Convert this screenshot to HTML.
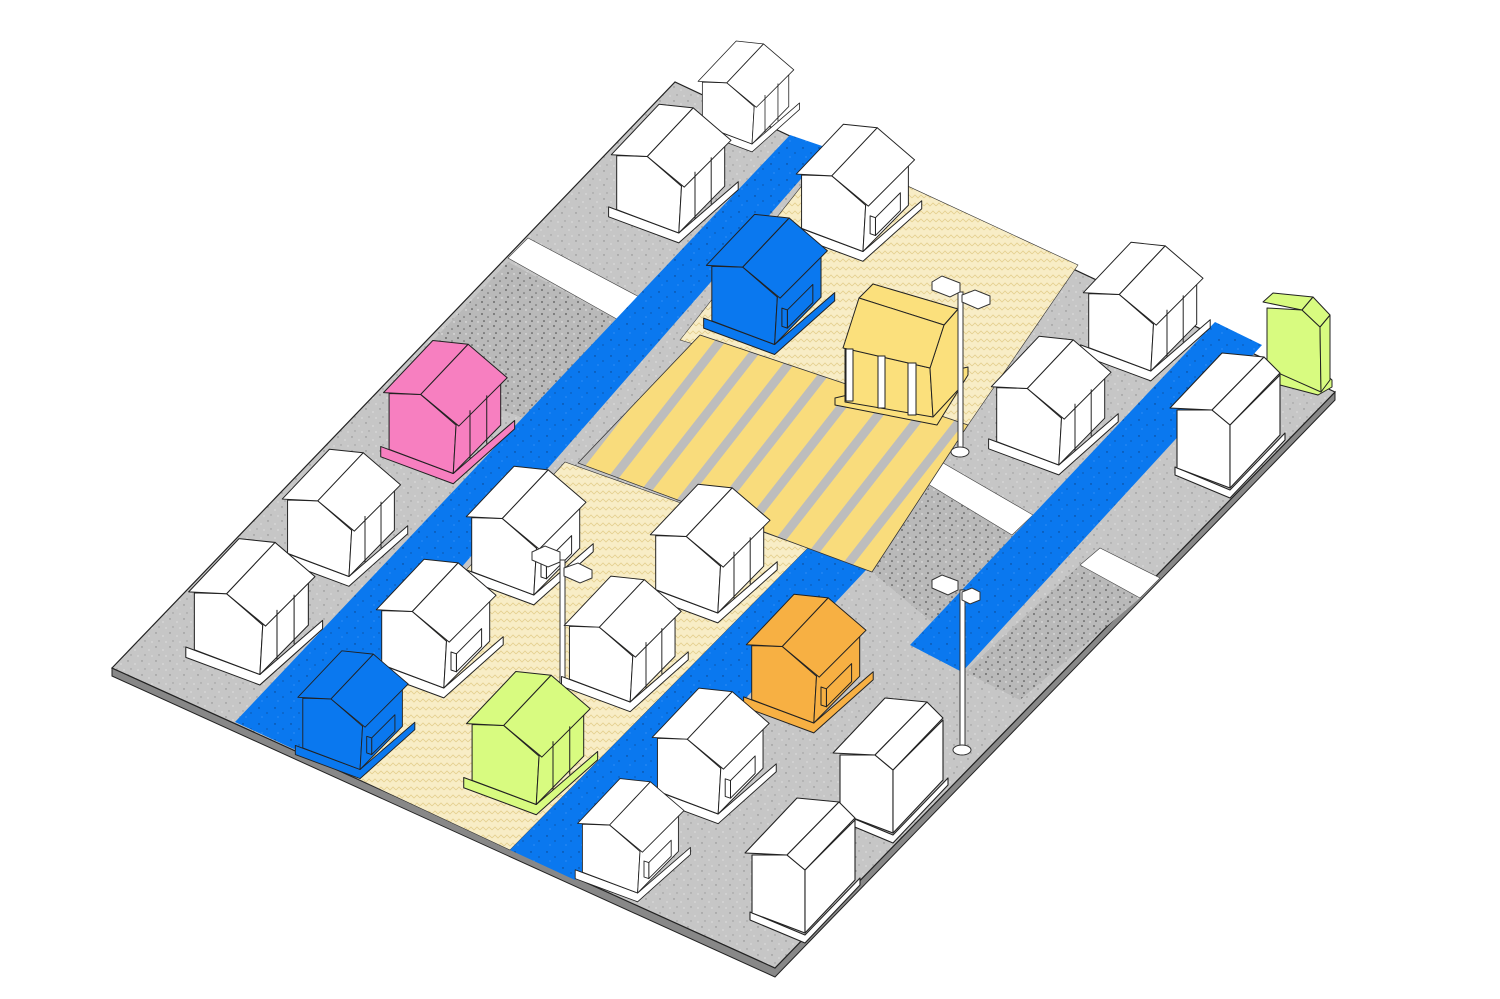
<!DOCTYPE html>
<html><head><meta charset="utf-8"><style>html,body{margin:0;padding:0;background:#fff}svg{display:block}</style></head>
<body>
<svg width="1500" height="999" viewBox="0 0 1500 999" xmlns="http://www.w3.org/2000/svg">
<defs>
<pattern id="spk" width="14" height="14" patternUnits="userSpaceOnUse">
<rect width="14" height="14" fill="#c6c6c6"/>
<circle cx="2" cy="3" r="0.7" fill="#888"/><circle cx="9" cy="6" r="0.6" fill="#eee"/><circle cx="5" cy="11" r="0.7" fill="#999"/><circle cx="12" cy="12" r="0.6" fill="#eee"/>
</pattern>
<pattern id="spkd" width="12" height="12" patternUnits="userSpaceOnUse">
<rect width="12" height="12" fill="#b9b9b9"/>
<circle cx="2" cy="2" r="0.9" fill="#555"/><circle cx="8" cy="5" r="0.8" fill="#666"/><circle cx="4" cy="9" r="0.8" fill="#444"/><circle cx="10" cy="10" r="0.7" fill="#eee"/>
</pattern>
<pattern id="blu" width="16" height="16" patternUnits="userSpaceOnUse">
<rect width="16" height="16" fill="#0a78ef"/>
<circle cx="3" cy="4" r="0.7" fill="#0b3f80"/><circle cx="11" cy="9" r="0.6" fill="#0b3f80"/><circle cx="6" cy="13" r="0.5" fill="#6ab0ff"/>
</pattern>
<pattern id="pav" width="12" height="8" patternUnits="userSpaceOnUse">
<rect width="12" height="8" fill="#f8edc6"/>
<path d="M0 6 L3 3 L6 6 L9 3 L12 6" stroke="#e4cf8e" stroke-width="0.8" fill="none"/>
</pattern>
<pattern id="cw" width="34" height="40" patternUnits="userSpaceOnUse" patternTransform="rotate(38)">
<rect width="34" height="40" fill="#bdbdbd"/>
<rect x="0" width="25" height="40" fill="#f9dc7c"/>
</pattern>
<clipPath id="cwc"><polygon points="578,463 700,335 968,425 872,572"/></clipPath>
<g id="h1" stroke="#222" stroke-width="1.1" stroke-linejoin="round">
<polygon points="4,121 82,150 148,93 148,102 82,161 4,132"/>
<polygon points="13,64 47,65 85,98 82,150 13,124"/>
<polygon points="85,98 133,50 133,98 82,150"/>
<polygon points="7,63 60,7 98,11 47,65"/>
<polygon points="47,65 98,11 140,47 88,99"/>
<path d="M100 82 L100 134 M118 66 L118 118" fill="none"/>
</g>
<g id="h1w" stroke="#222" stroke-width="1.1" stroke-linejoin="round">
<polygon points="4,121 82,150 148,93 148,102 82,161 4,132"/>
<polygon points="13,64 47,65 85,98 82,150 13,124"/>
<polygon points="85,98 133,50 133,98 82,150"/>
<polygon points="7,63 60,7 98,11 47,65"/>
<polygon points="47,65 98,11 140,47 88,99"/>
<polygon points="96,112 124,84 124,104 96,132"/>
<polygon points="90,110 96,112 96,132 90,130"/>
</g>
<g id="h2" stroke="#222" stroke-width="1.1" stroke-linejoin="round">
<polygon points="8,122 63,145 118,88 118,95 63,153 8,130"/>
<polygon points="10,65 45,65 63,80 63,143 10,123"/>
<polygon points="63,80 113,30 113,90 63,143"/>
<polygon points="3,63 55,8 97,12 45,65"/>
<polygon points="45,65 97,12 113,28 63,80"/>
</g>
</defs>

<!-- ground -->
<polygon points="112,668 775,968 1335,392 1335,400 775,977 112,676" fill="#888" stroke="#222" stroke-width="1"/>
<polygon points="112,668 675,82 1335,392 775,968" fill="url(#spk)" stroke="#222" stroke-width="1.2"/>
<polygon points="400,375 508,262 622,322 530,420" fill="url(#spkd)"/>
<polygon points="872,572 935,478 1030,530 965,650" fill="url(#spkd)"/>
<polygon points="965,672 1080,565 1140,598 1020,700" fill="url(#spkd)"/>
<!-- white bands -->
<polygon points="508,258 528,238 645,300 622,322" fill="#fff" stroke="#444" stroke-width="0.6"/>
<polygon points="918,478 938,460 1033,515 1012,535" fill="#fff" stroke="#444" stroke-width="0.6"/>
<polygon points="1080,565 1100,548 1160,578 1140,598" fill="#fff" stroke="#444" stroke-width="0.6"/>
<!-- pavers -->
<polygon points="300,752 565,462 808,548 510,850" fill="url(#pav)" stroke="#333" stroke-width="0.6"/>
<polygon points="680,340 830,150 1078,265 968,425" fill="url(#pav)" stroke="#333" stroke-width="0.6"/>
<!-- blue strips -->
<polygon points="235,722 790,135 828,148 300,752" fill="url(#blu)"/>
<polygon points="510,850 808,548 866,570 575,880" fill="url(#blu)"/>
<polygon points="910,645 1215,322 1262,345 962,672" fill="url(#blu)"/>
<!-- crosswalk -->
<g clip-path="url(#cwc)"><rect x="560" y="320" width="420" height="260" fill="url(#cw)"/></g>
<polygon points="578,463 700,335 968,425 872,572" fill="none" stroke="#333" stroke-width="0.8"/>

<!-- houses back to front -->
<use href="#h1" transform="translate(693,36) scale(0.72)" fill="#fff"/>
<use href="#h1" transform="translate(605,98) scale(0.9)" fill="#fff"/>
<use href="#h1w" transform="translate(790,118) scale(0.89)" fill="#fff"/>
<use href="#h1w" transform="translate(700,208) scale(0.91)" fill="#0a78ef"/>
<use href="#h1" transform="translate(1077,236) scale(0.9)" fill="#fff"/>
<!-- green small -->
<g stroke="#222" stroke-width="1" fill="#d8fb80" stroke-linejoin="round">
<polygon points="1280,370 1323,372 1332,380 1332,387 1318,395 1280,385"/>
<polygon points="1267,308 1302,310 1320,327 1321,392 1267,368"/>
<polygon points="1320,327 1330,315 1330,380 1321,392"/>
<polygon points="1263,302 1273,293 1313,297 1302,310"/>
<polygon points="1302,310 1313,297 1330,315 1320,327"/>
</g>
<!-- yellow house -->
<g stroke="#222" stroke-width="1" fill="#fbe07c" stroke-linejoin="round">
<polygon points="835,398 968,367 968,375 937,425 835,405"/>
<polygon points="845,348 930,368 933,417 845,402"/>
<polygon points="944,325 958,309 958,390 933,417 930,368"/>
<polygon points="859,298 873,284 958,309 944,325"/>
<polygon points="859,298 944,325 930,368 843,348"/>
<rect x="846" y="349" width="7" height="52" fill="#fff"/>
<rect x="878" y="356" width="7" height="52" fill="#fff"/>
<rect x="908" y="363" width="8" height="52" fill="#fff"/>
</g>
<!-- lamp 1 -->
<g stroke="#333" stroke-width="1" fill="#fff">
<rect x="958" y="292" width="5" height="160"/>
<ellipse cx="960" cy="452" rx="9" ry="5"/>
<polygon points="932,282 942,276 960,283 960,292 950,297 932,290"/>
<polygon points="962,295 975,290 990,296 990,304 978,309 962,302"/>
</g>
<use href="#h1" transform="translate(985,330) scale(0.9)" fill="#fff"/>
<use href="#h2" transform="translate(1167,345) scale(1,1)" fill="#fff"/>
<use href="#h1" transform="translate(377,334) scale(0.93)" fill="#f77fc0"/>
<use href="#h1" transform="translate(276,443) scale(0.89)" fill="#fff"/>
<use href="#h1w" transform="translate(460,460) scale(0.9)" fill="#fff"/>
<use href="#h1" transform="translate(644,478) scale(0.9)" fill="#fff"/>
<use href="#h1" transform="translate(182,532) scale(0.95)" fill="#fff"/>
<use href="#h1w" transform="translate(370,553) scale(0.9)" fill="#fff"/>
<!-- lamp 3 -->
<g stroke="#333" stroke-width="1" fill="#fff">
<rect x="560" y="560" width="5" height="145"/>
<polygon points="532,552 545,546 560,552 560,562 548,567 532,560"/>
<polygon points="564,568 578,563 592,570 592,578 580,583 564,576"/>
</g>
<use href="#h1" transform="translate(558,570) scale(0.88)" fill="#fff"/>
<!-- lamp 2 -->
<g stroke="#333" stroke-width="1" fill="#fff">
<rect x="960" y="590" width="5" height="160"/>
<ellipse cx="962" cy="750" rx="9" ry="5"/>
<polygon points="932,580 942,575 958,581 958,590 948,595 932,588"/>
<polygon points="962,592 972,588 980,592 980,600 970,604 962,600"/>
</g>
<use href="#h1w" transform="translate(740,588) scale(0.9)" fill="#f7b043"/>
<use href="#h1w" transform="translate(292,645) scale(0.83)" fill="#0a78ef"/>
<use href="#h1" transform="translate(460,665) scale(0.93)" fill="#d8fb80"/>
<use href="#h1w" transform="translate(646,682) scale(0.88)" fill="#fff"/>
<use href="#h2" transform="translate(830,690) scale(1,1)" fill="#fff"/>
<use href="#h1w" transform="translate(572,773) scale(0.8)" fill="#fff"/>
<use href="#h2" transform="translate(742,790) scale(1,1)" fill="#fff"/>
</svg>
</body></html>
